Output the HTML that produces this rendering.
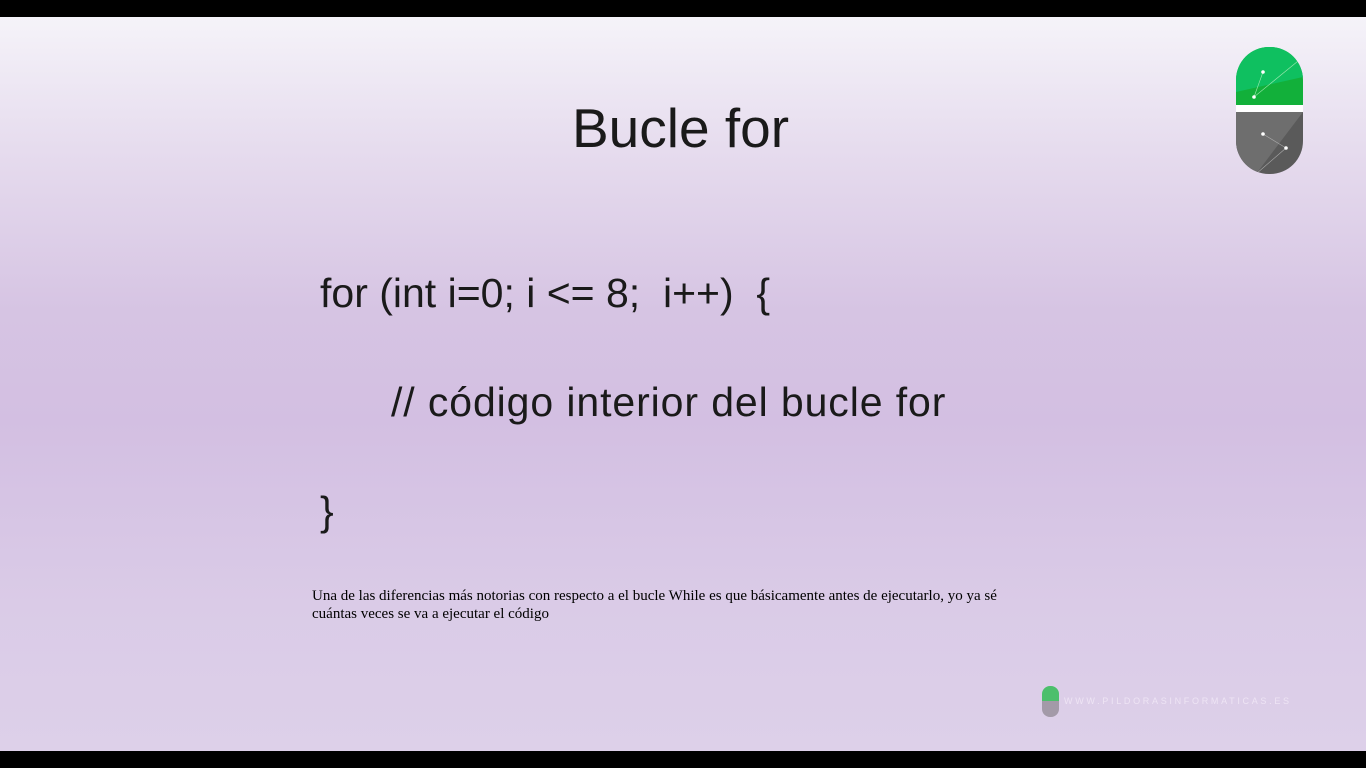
<!DOCTYPE html>
<html><head><meta charset="utf-8"><style>
body{margin:0;width:1366px;height:768px;overflow:hidden;background:#000;position:relative;font-family:"Liberation Sans",sans-serif}
#s{position:absolute;left:0;top:17px;width:1366px;height:734px;background:linear-gradient(#f5f3f9 0%,#e6dcee 18%,#d6c4e3 40%,#d3bfe2 55%,#dacbe7 80%,#ddd0e9 100%)}
.t{position:absolute;color:#1a1a1a;white-space:pre;line-height:1}
</style></head><body>
<div id="s">
<div class="t" style="left:572px;top:84px;font-size:55px">Bucle for</div>
<div class="t" style="left:320px;top:256px;font-size:41px">for (int i=0; i &lt;= 8;  i++)  {</div>
<div class="t" style="left:391px;top:365px;font-size:41px;letter-spacing:0.9px">// código interior del bucle for</div>
<div class="t" style="left:320px;top:474px;font-size:41px">}</div>
<div style="position:absolute;left:312px;top:570px;width:720px;font-family:'Liberation Serif',serif;font-size:15px;line-height:18px;color:#000">Una de las diferencias más notorias con respecto a el bucle While es que básicamente antes de ejecutarlo, yo ya sé<br>cuántas veces se va a ejecutar el código</div>
<svg style="position:absolute;left:1236px;top:30px" width="67" height="127">
<defs><clipPath id="c"><rect x="0" y="0" width="67" height="127" rx="33"/></clipPath></defs>
<g clip-path="url(#c)">
<rect x="0" y="0" width="67" height="58" fill="#12b03a"/>
<polygon points="0,0 67,0 67,30 0,45" fill="#0fc060"/>
<rect x="0" y="58" width="67" height="7" fill="#fff"/>
<rect x="0" y="65" width="67" height="62" fill="#5a5a5a"/>
<polygon points="0,65 67,65 20,127 0,127" fill="#6e6e6e"/>
<polyline points="27,25 18,50 67,10 M27,25 5,5" stroke="#9fe8b0" stroke-width="0.6" fill="none"/>
<polyline points="27,87 50,101 20,127 M27,87 0,70" stroke="#aaa" stroke-width="0.6" fill="none"/>
<circle cx="27" cy="25" r="1.8" fill="#fff"/><circle cx="18" cy="50" r="1.8" fill="#fff"/>
<circle cx="27" cy="87" r="1.8" fill="#fff"/><circle cx="50" cy="101" r="1.8" fill="#fff"/>
</g></svg>
<svg style="position:absolute;left:1042px;top:669px" width="17" height="31">
<defs><clipPath id="d"><rect width="17" height="31" rx="8"/></clipPath></defs>
<g clip-path="url(#d)"><rect width="17" height="15" fill="#4cbf6c"/><rect y="15" width="17" height="16" fill="#a39aa8"/></g></svg>
<div style="position:absolute;left:1064px;top:679px;font-size:9px;letter-spacing:2.7px;color:#eee4f4">WWW.PILDORASINFORMATICAS.ES</div>
</div>
</body></html>
